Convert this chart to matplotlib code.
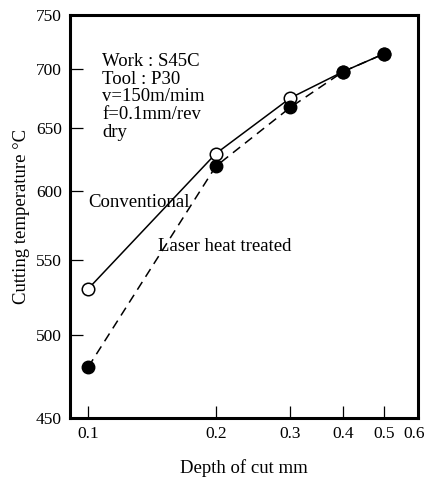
import matplotlib
matplotlib.use("Agg")
import matplotlib.pyplot as plt
from matplotlib.ticker import FixedLocator, FixedFormatter, NullLocator
from matplotlib.transforms import ScaledTranslation

# data
depth = [0.1, 0.2, 0.3, 0.4, 0.5]
temp_conv = [530, 629, 675, 698, 714]
temp_laser = [480, 619, 667, 698, 714]

xticks = [0.1, 0.2, 0.3, 0.4, 0.5, 0.6]
xticklabels = ["0.1", "0.2", "0.3", "0.4", "0.5", "0.6"]
yticks = [450, 500, 550, 600, 650, 700, 750]

conditions = ["Work : S45C", "Tool : P30", "v=150m/mim", "f=0.1mm/rev", "dry"]

plt.rcParams['font.family'] = ['Liberation Serif', 'DejaVu Serif']
plt.rcParams['font.size'] = 13.5

fig = plt.figure(figsize=(4.28, 4.84), dpi=100)
ax = fig.add_axes([0.1636, 0.1364, 0.813, 0.833])

ax.plot(depth, temp_conv, '-', color='black', lw=1.1,
        marker='o', ms=9, mfc='white', mec='black', mew=1.1, zorder=3)
ax.plot(depth, temp_laser, '--', color='black', lw=1.1, dashes=(6, 4),
        marker='o', ms=9, mfc='black', mec='black', zorder=4)

ax.set_xscale('log')
ax.set_yscale('log')
ax.set_xlim(0.0906, 0.6)
ax.set_ylim(450, 750)

ax.xaxis.set_major_locator(FixedLocator(xticks))
ax.xaxis.set_major_formatter(FixedFormatter(xticklabels))
ax.xaxis.set_minor_locator(NullLocator())
ax.yaxis.set_major_locator(FixedLocator(yticks))
ax.yaxis.set_major_formatter(FixedFormatter([str(v) for v in yticks]))
ax.yaxis.set_minor_locator(NullLocator())

ax.tick_params(direction='in', length=9, width=0.9, pad=6, labelsize=12.5)
for s in ax.spines.values():
    s.set_linewidth(2.2)

# last x label sits against the figure edge, nudge it left a little
fig.canvas.draw()
last = ax.get_xticklabels()[-1]
last.set_transform(last.get_transform() + ScaledTranslation(-4 / 100, 0, fig.dpi_scale_trans))

ax.set_xlabel("Depth of cut mm", labelpad=12)
ax.set_ylabel("Cutting temperature °C", labelpad=4)

ax.text(0.092, 0.905, "\n".join(conditions), transform=ax.transAxes,
        va='top', ha='left', linespacing=1.05)
ax.text(0.053, 0.535, "Conventional", transform=ax.transAxes,
        va='center', ha='left')
ax.text(0.252, 0.425, "Laser heat treated", transform=ax.transAxes,
        va='center', ha='left')

fig.savefig("out.png", dpi=100)
